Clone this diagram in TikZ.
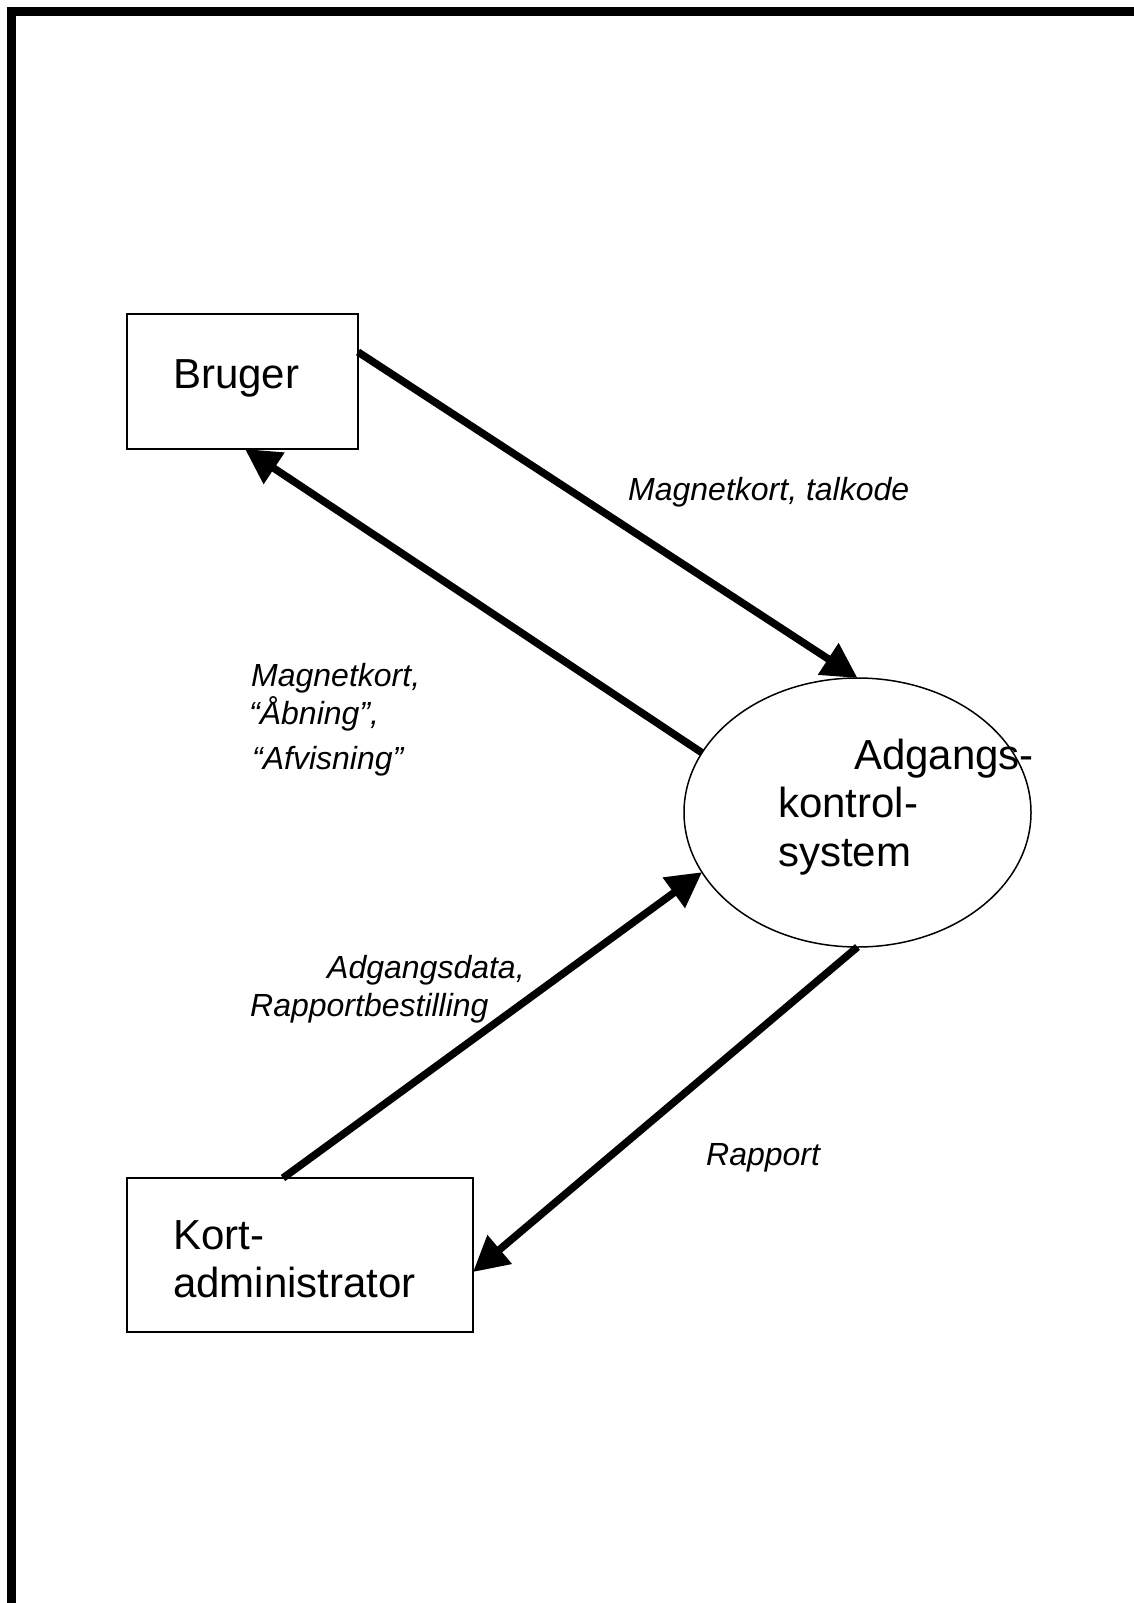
\documentclass[tikz,border=0pt]{standalone}
\usepackage{fontspec}
\setmainfont{Liberation Sans}
\usetikzlibrary{arrows.meta,shapes.geometric}
\tikzset{
  box/.style={draw, line width=2pt, anchor=north west, inner sep=0pt, outer sep=0pt},
  process/.style={draw, ellipse, line width=1.5pt, inner sep=0pt, outer sep=0pt},
  bigtext/.style={anchor=base west, inner sep=0pt, font=\fontsize{42}{48}\selectfont},
  flowlabel/.style={anchor=base west, inner sep=0pt, font=\fontsize{32}{38}\selectfont\itshape},
  flow/.style={line width=7.5pt, -{Triangle[length=35pt,width=36pt]}},
}
\begin{document}
\begin{tikzpicture}[x=1pt,y=-1pt]
  \useasboundingbox (0,0) rectangle (1134,1603);
  % page frame (top and left edges)
  \fill (7,7) rectangle (1134,16);
  \fill (7,7) rectangle (16,1603);

  % external entities
  \node[box, minimum width=231pt, minimum height=135pt] (bruger) at (127,314) {};
  \node[bigtext] (brugertxt) at (173,388) {Bruger};

  \node[box, minimum width=346pt, minimum height=154pt] (kort) at (127,1178) {};
  \node[bigtext] (korttxt1) at (173,1249) {Kort-};
  \node[bigtext] (korttxt2) at (173,1297) {administrator};

  % the system process
  \node[process, minimum width=347pt, minimum height=269pt] (aks) at (857.5,812.5) {};
  \node[bigtext] (akstxt1) at (854,769) {Adgangs-};
  \node[bigtext] (akstxt2) at (778,817) {kontrol-};
  \node[bigtext] (akstxt3) at (778,866) {system};

  % data flows
  \draw[flow] ([yshift=29.5pt]bruger.east) -- (aks.north);
  \draw[flow] (aks.159.7) -- ([xshift=2.5pt]bruger.south);
  \draw[flow] ([xshift=-17pt]kort.north) -- (aks.201.1);
  \draw[flow] (aks.south) -- ([yshift=-17pt]kort.east);

  % flow labels
  \node[flowlabel] (l1) at (628,500) {Magnetkort, talkode};
  \node[flowlabel] (l2a) at (251,686) {Magnetkort,};
  \node[flowlabel] (l2b) at (249,724) {“Åbning”,};
  \node[flowlabel] (l2c) at (252,769) {“Afvisning”};
  \node[flowlabel] (l3a) at (327,978) {Adgangsdata,};
  \node[flowlabel] (l3b) at (250,1016) {Rapportbestilling};
  \node[flowlabel] (l4) at (706,1165) {Rapport};
\end{tikzpicture}
\end{document}
